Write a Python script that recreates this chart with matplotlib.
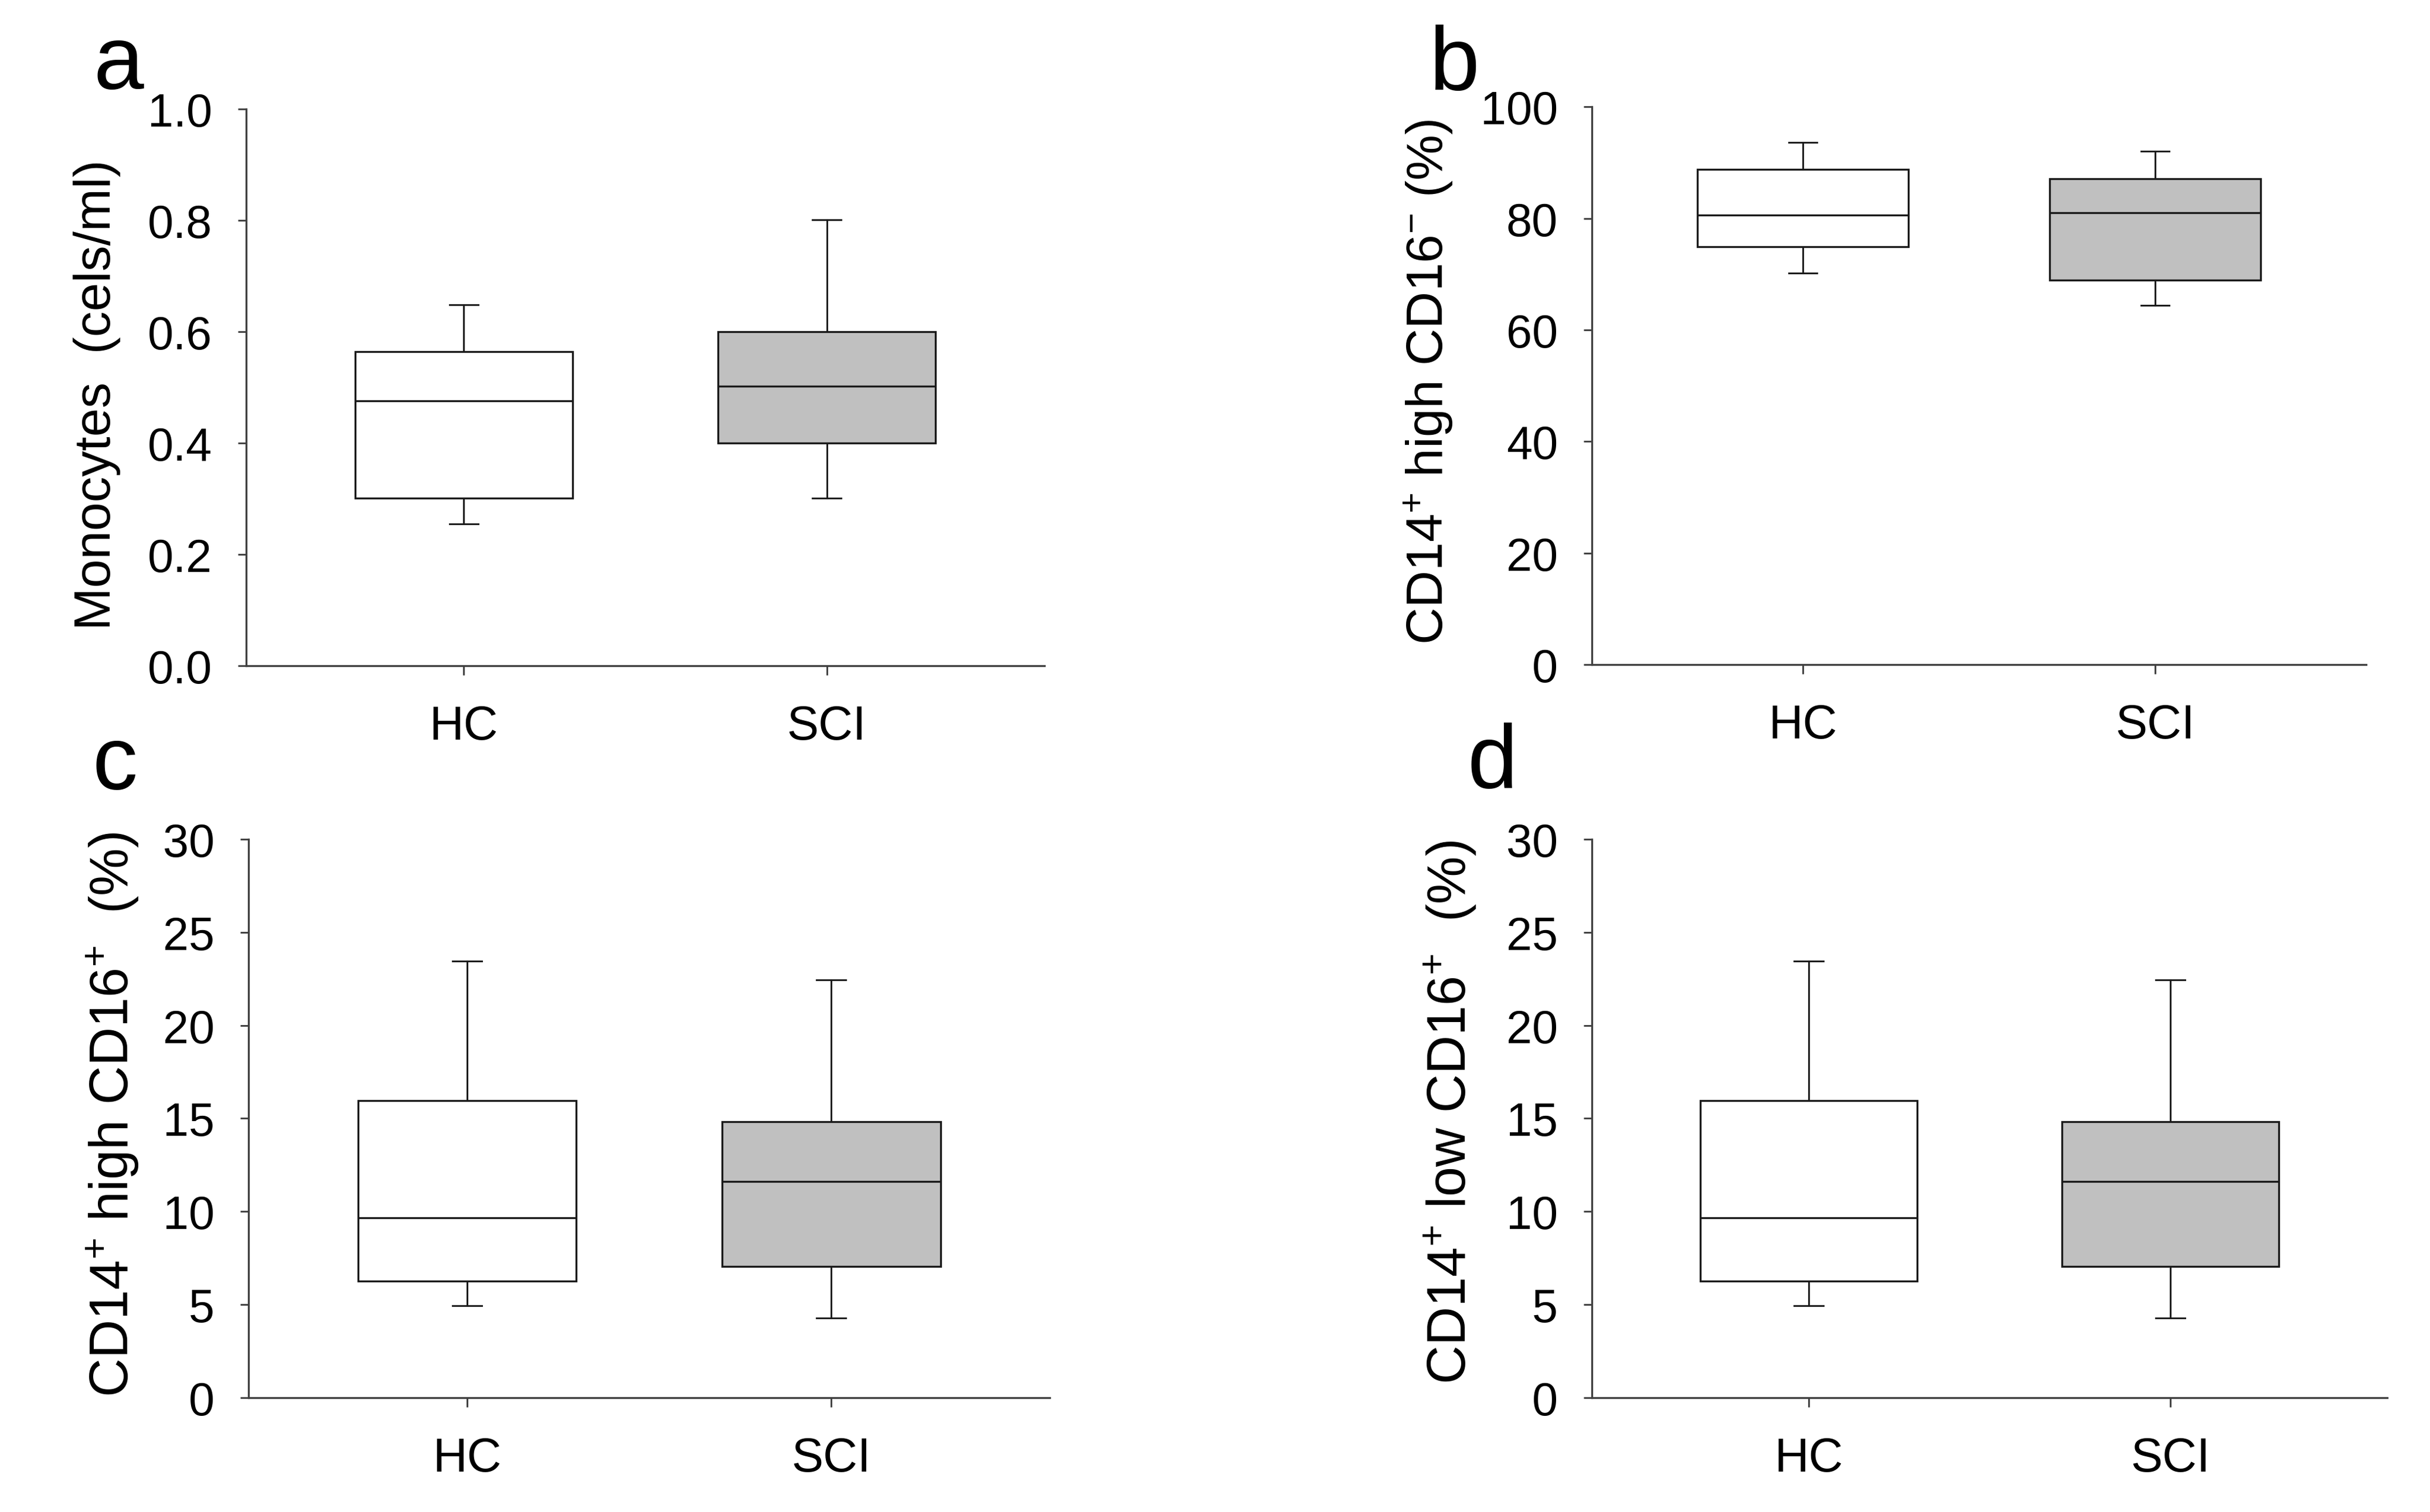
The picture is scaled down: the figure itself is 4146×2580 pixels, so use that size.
import matplotlib
matplotlib.use('Agg')
import matplotlib.pyplot as plt

plt.rcParams['font.family'] = ['Liberation Sans', 'DejaVu Sans']
plt.rcParams['mathtext.fontset'] = 'custom'
plt.rcParams['mathtext.rm'] = 'Liberation Sans'
plt.rcParams['mathtext.default'] = 'regular'

groups = ['HC', 'SCI']
fills = ['white', '#c0c0c0']

# box stats (q1, median, q3, whisker low, whisker high)
a_q1 = [0.301, 0.400]
a_med = [0.476, 0.502]
a_q3 = [0.564, 0.600]
a_lo = [0.255, 0.301]
a_hi = [0.648, 0.801]

b_q1 = [74.9, 68.9]
b_med = [80.6, 81.0]
b_q3 = [88.8, 87.1]
b_lo = [70.2, 64.4]
b_hi = [93.6, 92.1]

c_q1 = [6.27, 7.05]
c_med = [9.67, 11.62]
c_q3 = [15.97, 14.83]
c_lo = [4.93, 4.28]
c_hi = [23.44, 22.43]

d_q1 = [6.27, 7.05]
d_med = [9.67, 11.62]
d_q3 = [15.97, 14.83]
d_lo = [4.93, 4.28]
d_hi = [23.44, 22.43]

line_c = '#1a1a1a'
spine_c = '#404040'


def panel(ax, q1, med, q3, lo, hi, ylim, yticks, fmt):
    stats = []
    for i in range(len(groups)):
        stats.append(dict(label=groups[i], q1=q1[i], med=med[i], q3=q3[i],
                          whislo=lo[i], whishi=hi[i], fliers=[]))
    bp = ax.bxp(stats, positions=[1, 2], widths=0.6, patch_artist=True,
                showfliers=False, capwidths=0.08,
                boxprops=dict(edgecolor=line_c, linewidth=0.8),
                medianprops=dict(color=line_c, linewidth=0.8),
                whiskerprops=dict(color=line_c, linewidth=0.7),
                capprops=dict(color=line_c, linewidth=0.7))
    for patch, fc in zip(bp['boxes'], fills):
        patch.set_facecolor(fc)
    ax.set_xlim(0.4, 2.6)
    ax.set_ylim(*ylim)
    ax.set_yticks(yticks)
    ax.set_yticklabels([fmt.format(v) for v in yticks])
    ax.set_xticks([1, 2])
    ax.set_xticklabels(groups)
    for s in ['top', 'right']:
        ax.spines[s].set_visible(False)
    for s in ['left', 'bottom']:
        ax.spines[s].set_color(spine_c)
        ax.spines[s].set_linewidth(0.8)
    ax.tick_params(axis='y', direction='out', length=3.4, width=0.7,
                   color=spine_c, labelsize=19, pad=10.5)
    ax.tick_params(axis='x', direction='out', length=3.8, width=0.7,
                   color=spine_c, labelsize=19.5, pad=12)


fig = plt.figure(figsize=(13.82, 8.603), dpi=300)

ax_a = fig.add_axes([0.1013, 0.5595, 0.3285, 0.3681])
ax_b = fig.add_axes([0.6551, 0.5602, 0.3186, 0.3688])
ax_c = fig.add_axes([0.1023, 0.0756, 0.3297, 0.3692])
ax_d = fig.add_axes([0.6551, 0.0756, 0.3273, 0.3692])

panel(ax_a, a_q1, a_med, a_q3, a_lo, a_hi, (0, 1.0),
      [0.0, 0.2, 0.4, 0.6, 0.8, 1.0], '{:.1f}')
panel(ax_b, b_q1, b_med, b_q3, b_lo, b_hi, (0, 100),
      [0, 20, 40, 60, 80, 100], '{:d}')
panel(ax_c, c_q1, c_med, c_q3, c_lo, c_hi, (0, 30),
      [0, 5, 10, 15, 20, 25, 30], '{:d}')
panel(ax_d, d_q1, d_med, d_q3, d_lo, d_hi, (0, 30),
      [0, 5, 10, 15, 20, 25, 30], '{:d}')

# y labels
fig.text(0.040, 0.739, 'Monocytes  (cels/ml)', rotation=90,
         ha='center', va='center', fontsize=21)
fig.text(0.5878, 0.7474, r'CD14$^{+}$ high CD16$^{-}$ (%)', rotation=90,
         ha='center', va='center', fontsize=21)
fig.text(0.0465, 0.263, r'CD14$^{+}$ high CD16$^{+}$  (%)', rotation=90,
         ha='center', va='center', fontsize=22)
fig.text(0.597, 0.2646, r'CD14$^{+}$ low CD16$^{+}$  (%)', rotation=90,
         ha='center', va='center', fontsize=22)

# panel letters
fig.text(160 / 4146, 1 - 152 / 2581, 'a', ha='left', va='baseline', fontsize=37)
fig.text(2438 / 4146, 1 - 154 / 2581, 'b', ha='left', va='baseline', fontsize=37)
fig.text(158 / 4146, 1 - 1347 / 2581, 'c', ha='left', va='baseline', fontsize=37)
fig.text(2503 / 4146, 1 - 1345 / 2581, 'd', ha='left', va='baseline', fontsize=37)

plt.savefig('out.png', dpi=300)
